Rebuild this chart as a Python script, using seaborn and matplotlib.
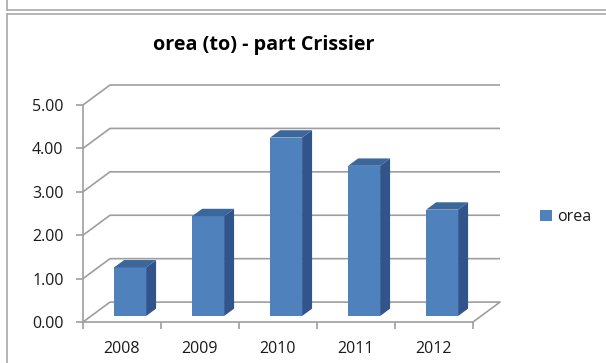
import matplotlib
matplotlib.use("Agg")
import matplotlib.pyplot as plt
import pandas as pd
import seaborn as sns
from matplotlib.patches import Polygon, Patch
from matplotlib.lines import Line2D
from matplotlib.transforms import Affine2D
from matplotlib.ticker import FixedLocator, FormatStrFormatter

# --- data -------------------------------------------------------------
years = ["2008", "2009", "2010", "2011", "2012"]
orea = [1.12, 2.30, 4.11, 3.46, 2.45]
y_ticks = [0, 1, 2, 3, 4, 5]
series_name = "orea"
title = "orea (to) - part Crissier"

# --- style ------------------------------------------------------------
FRONT = "#4F81BD"
TOP = "#3C679B"
SIDE = "#31558A"
GRID = "#9E9E9E"
TEXT = "#1A1A1A"
W, H = 606, 363

sns.set_theme(style="ticks")
plt.rcParams["font.family"] = ["Open Sans", "DejaVu Sans"]

fig = plt.figure(figsize=(W / 100, H / 100), dpi=100)
fig.patch.set_facecolor("white")

# plot box (front plane + room for the receding depth)
left_px, right_px, top_px, bottom_px = 83, 500, 85, 322
ax = fig.add_axes([left_px / W, 1 - bottom_px / H,
                   (right_px - left_px) / W, (bottom_px - top_px) / H])

df = pd.DataFrame({"year": years, "value": orea})
sns.barplot(data=df, x="year", y="value", color=FRONT, saturation=1,
            width=0.41, ax=ax, edgecolor="none", zorder=3)

n = len(years)
ymax = max(y_ticks)
# oblique depth of the whole floor, in data units
DX = 27 / 78
DY = 20 / 43.6
ax.set_xlim(-0.5, n - 0.5 + DX)
ax.set_ylim(0, ymax + DY)

# bars sit part-way back on the floor and have their own depth
F0 = 0.30
BD = 0.37
sx, sy = F0 * DX, F0 * DY
bx, by = BD * DX, BD * DY
for p in list(ax.patches):
    x0, w, h = p.get_x(), p.get_width(), p.get_height()
    p.set_transform(Affine2D().translate(sx, sy) + ax.transData)
    xl, xr, yb, yt = x0 + sx, x0 + w + sx, sy, h + sy
    top = Polygon([(xl, yt), (xr, yt), (xr + bx, yt + by), (xl + bx, yt + by)],
                  closed=True, facecolor=TOP, edgecolor="none", zorder=3)
    side = Polygon([(xr, yb), (xr + bx, yb + by), (xr + bx, yt + by), (xr, yt)],
                   closed=True, facecolor=SIDE, edgecolor="none", zorder=3)
    ax.add_patch(top)
    ax.add_patch(side)

# walls: gridlines run from the front axis back and along the back wall
for v in y_ticks:
    ax.plot([-0.5, -0.5 + DX, n - 0.5 + DX], [v, v + DY, v + DY],
            color=GRID, lw=1.2, clip_on=False, zorder=1,
            solid_capstyle="butt")
# right edge of the floor
ax.plot([n - 0.5, n - 0.5 + DX], [0, DY], color=GRID, lw=1.2,
        clip_on=False, zorder=1)

# axes lines
for s in ("top", "right"):
    ax.spines[s].set_visible(False)
ax.spines["bottom"].set_bounds(-0.5, n - 0.5)
ax.spines["left"].set_bounds(0, ymax)
for s in ("bottom", "left"):
    ax.spines[s].set_color(GRID)
    ax.spines[s].set_linewidth(1.2)

ax.set_yticks(y_ticks)
ax.yaxis.set_major_formatter(FormatStrFormatter("%.2f"))
ax.tick_params(axis="y", length=5, width=1.2, color=GRID, pad=9,
               labelsize=11.5, labelcolor=TEXT, left=True)
ax.xaxis.set_minor_locator(FixedLocator([i - 0.5 for i in range(n + 1)]))
ax.tick_params(axis="x", which="major", length=0, pad=14,
               labelsize=11.5, labelcolor=TEXT)
ax.tick_params(axis="x", which="minor", length=5, width=1.2, color=GRID,
               bottom=True)
ax.set_xlabel("")
ax.set_ylabel("")
ax.set_facecolor("none")

# legend
handle = Patch(facecolor=ax.patches[0].get_facecolor(), edgecolor="none")
fig.legend(handles=[handle], labels=[series_name], loc="center left",
           bbox_to_anchor=(532 / W, 1 - 217 / H), frameon=False,
           borderpad=0, handlelength=0.75, handleheight=0.75,
           handletextpad=0.3, fontsize=11.5, labelcolor=TEXT)

# title
fig.text(264 / W, 1 - 45 / H, title, ha="center", va="center",
         fontsize=14.2, fontweight="bold", color="black")

# chart frame edges
fc = "#A8A8A8"
fig.add_artist(Line2D([7 / W, 7 / W], [1, 1 - 10 / H], color=fc, lw=1.2))
fig.add_artist(Line2D([7 / W, 1], [1 - 10 / H, 1 - 10 / H], color=fc, lw=1.2))
fig.add_artist(Line2D([7 / W, 1], [1 - 13.5 / H, 1 - 13.5 / H], color=fc, lw=1.2))
fig.add_artist(Line2D([7 / W, 7 / W], [1 - 13.5 / H, 0], color=fc, lw=1.2))

fig.savefig("out.png", dpi=100)
